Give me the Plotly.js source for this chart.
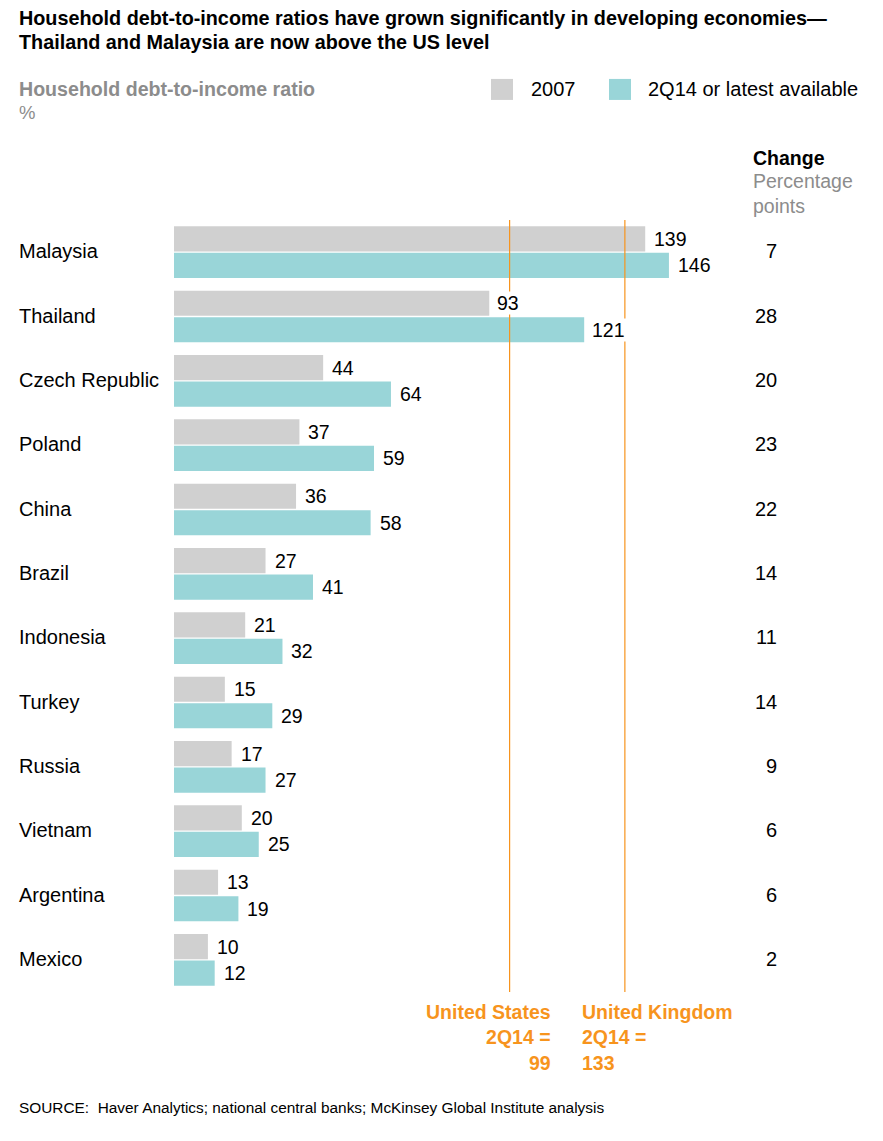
<!DOCTYPE html>
<html>
<head>
<meta charset="utf-8">
<script src="https://cdn.plot.ly/plotly-3.0.1.min.js"></script>
<style>html,body{margin:0;padding:0;background:#fff;}#chart{width:883px;height:1141px;}</style>
</head>
<body>
<div id="chart"></div>
<script>
// ---- data ----
const countries = ["Malaysia","Thailand","Czech Republic","Poland","China","Brazil","Indonesia","Turkey","Russia","Vietnam","Argentina","Mexico"];
const ratio2007 = [139,93,44,37,36,27,21,15,17,20,13,10];
const ratioLatest = [146,121,64,59,58,41,32,29,27,25,19,12];
const changePts = [7,28,20,23,22,14,11,14,9,6,6,2];
const seriesNames = ["2007","2Q14 or latest available"];
const titleLines = ["Household debt-to-income ratios have grown significantly in developing economies—",
                    "Thailand and Malaysia are now above the US level"];
const refLines = [
  {name:"United States", label:"2Q14 =", value:99, side:"right"},
  {name:"United Kingdom", label:"2Q14 =", value:133, side:"left"}
];

// ---- geometry / style ----
const W = 883, H = 1141;
const mL = 174, mR = 0, mT = 220, mB = 149.4;
const plotW = W - mL - mR, plotH = H - mT - mB;
const pxPerUnit = 3.39;
const xMax = plotW / pxPerUnit;
const FONT = '"Liberation Sans", Arial, sans-serif';
const GRAY = '#d0d0d0', TEAL = '#99d5d8', ORANGE = '#f7941d', SUBGRAY = '#8c8c8c';
const BAR_OFF = 0.206;

const px2x = px => (px - mL) / plotW;
const py2y = py => 1 - (py - mT) / plotH;

const traces = [
  {type:'bar', orientation:'h', name:seriesNames[0], y:countries, x:ratio2007,
   marker:{color:GRAY}, hoverinfo:'skip', showlegend:false},
  {type:'bar', orientation:'h', name:seriesNames[1], y:countries, x:ratioLatest,
   marker:{color:TEAL}, hoverinfo:'skip', showlegend:false}
];

const annotations = [];
const shapes = [];

function valueLabel(v, yIdx) {
  const startPx = mL + v * pxPerUnit + 8;
  const wPx = String(v).length * 10.8;
  let crosses = false;
  refLines.forEach(r => {
    const lx = mL + r.value * pxPerUnit;
    if (lx >= startPx - 3 && lx <= startPx + wPx + 3) crosses = true;
  });
  const a = {xref:'x', yref:'y', x:v, y:yIdx, text:String(v), showarrow:false,
    xanchor:'left', yanchor:'middle', xshift:7, align:'left',
    font:{family:FONT, size:19.5, color:'#000'}};
  if (crosses) { a.bgcolor = '#fff'; a.borderpad = 0; a.width = wPx + 8; }
  return a;
}

function txt(px, py, text, size, color, extra) {
  return Object.assign({xref:'paper', yref:'paper', x:px2x(px), y:py2y(py), xanchor:'left', yanchor:'middle',
    showarrow:false, text:text, font:{family:FONT, size:size, color:color}}, extra || {});
}

countries.forEach((c, i) => {
  annotations.push({xref:'paper', yref:'y', x:px2x(17), y:i, text:c, showarrow:false,
    xanchor:'left', yanchor:'middle', yshift:1, font:{family:FONT, size:20, color:'#000'}});
  annotations.push(valueLabel(ratio2007[i], i - BAR_OFF));
  annotations.push(valueLabel(ratioLatest[i], i + BAR_OFF));
  annotations.push({xref:'paper', yref:'y', x:px2x(779), y:i, text:String(changePts[i]), showarrow:false,
    xanchor:'right', yanchor:'middle', yshift:1, font:{family:FONT, size:20, color:'#000'}});
});

// reference lines
refLines.forEach(r => {
  shapes.push({type:'line', xref:'x', yref:'paper', x0:r.value, x1:r.value, y0:0, y1:1,
    line:{color:ORANGE, width:1.2}, layer:'above'});
  const isRight = r.side === 'right';
  annotations.push({xref:'x', yref:'paper', x:r.value, y:py2y(1014), yanchor:'middle',
    xanchor: isRight ? 'right' : 'left', xshift: isRight ? 43 : -45, align: isRight ? 'right' : 'left',
    showarrow:false, text:'<b>' + r.name + '<br>' + r.label + '<br>' + r.value + '</b>',
    font:{family:FONT, size:19.5, color:ORANGE}, yshift:-23.5});
});

// title
annotations.push(txt(17, 18, '<b>' + titleLines[0] + '</b>', 19.8, '#000'));
annotations.push(txt(17, 42, '<b>' + titleLines[1] + '</b>', 19.8, '#000'));

// header texts
annotations.push(txt(17, 89, '<b>Household debt-to-income ratio</b>', 19.6, SUBGRAY));
annotations.push(txt(17, 113, '%', 18.5, SUBGRAY));
annotations.push(txt(751, 158, '<b>Change</b>', 19.5, '#000'));
annotations.push(txt(751, 194, 'Percentage<br>points', 19.5, SUBGRAY, {align:'left'}));

// legend
const legendItems = [{c:GRAY, x0:491, tx:529, t:seriesNames[0]}, {c:TEAL, x0:609, tx:646, t:seriesNames[1]}];
legendItems.forEach(l => {
  shapes.push({type:'rect', xref:'paper', yref:'paper', x0:px2x(l.x0), x1:px2x(l.x0 + 22),
    y0:py2y(100), y1:py2y(79), fillcolor:l.c, line:{width:0}});
  annotations.push(txt(l.tx, 89, l.t, 20, '#000'));
});

// source
annotations.push(txt(17, 1107, 'SOURCE:  Haver Analytics; national central banks; McKinsey Global Institute analysis', 15.4, '#000'));

const layout = {
  width: W, height: H,
  margin: {l:mL, r:mR, t:mT, b:mB},
  paper_bgcolor:'#fff', plot_bgcolor:'#fff',
  barmode:'group', bargap:0.176, bargroupgap:0.05,
  xaxis:{range:[0, xMax], showgrid:false, zeroline:false, showticklabels:false, showline:false, ticks:''},
  yaxis:{type:'category', categoryorder:'array', categoryarray:countries, range:[11.5, -0.5],
    showgrid:false, zeroline:false, showticklabels:false, showline:false, ticks:''},
  showlegend:false,
  shapes: shapes,
  annotations: annotations
};

Plotly.newPlot('chart', traces, layout, {displayModeBar:false, staticPlot:true});
</script>
</body>
</html>
